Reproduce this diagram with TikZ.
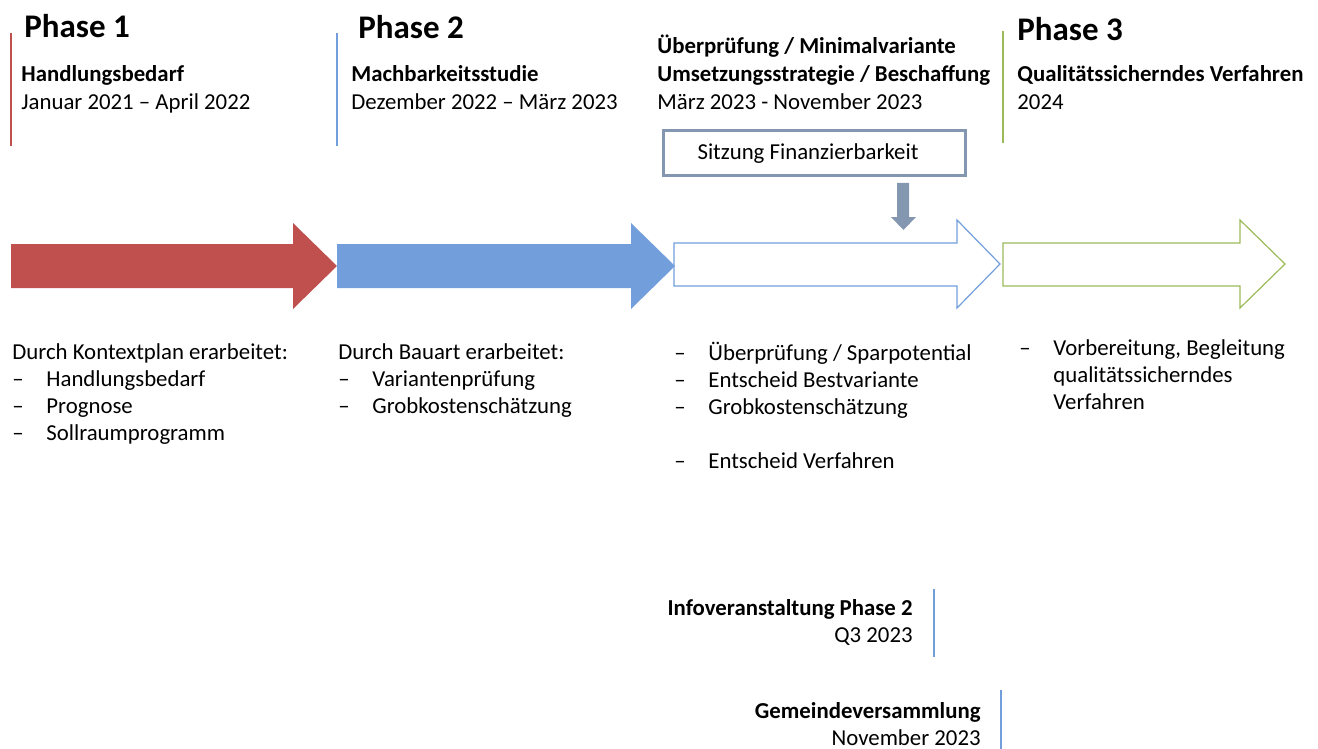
\documentclass[tikz,border=0pt]{standalone}
\usepackage{fontspec}
\setmainfont{Carlito}
\usetikzlibrary{positioning}
\definecolor{phaseRed}{HTML}{C0504D}
\definecolor{phaseBlue}{HTML}{729FDB}
\definecolor{phaseGreen}{HTML}{9BBB59}
\definecolor{boxGray}{HTML}{8497B0}
\newcommand{\listdash}{\makebox[17pt][l]{--}}

\begin{document}
\begin{tikzpicture}[x=0.5pt, y=-0.5pt,
    txt/.style={inner sep=0, anchor=base west, align=left, font=\fontsize{11.4}{13.75}\selectfont},
    boldtxt/.style={txt, font=\fontsize{11.4}{13.75}\selectfont\bfseries},
    listtxt/.style={txt, font=\fontsize{11.4}{13.5}\selectfont},
    righttxt/.style={inner sep=0, anchor=base east, align=right, font=\fontsize{11.4}{13.5}\selectfont},
    phasetitle/.style={inner sep=0, anchor=base west, font=\fontsize{16.5}{20}\selectfont\bfseries},
    marker/.style={line width=0.6pt}
  ]
  \useasboundingbox (0,0) rectangle (1318,749);

  % phase markers
  \draw[marker, phaseRed] (11,33) -- (11,146);
  \draw[marker, phaseBlue] (337,33) -- (337,146);
  \draw[marker, phaseGreen] (1003,31) -- (1003,143);

  % headings (multi-line nodes sit on the baseline of their last line)
  \node[phasetitle] (p1) at (24,37.5) {Phase 1};
  \node[boldtxt] (p1head) at (21,81.5) {Handlungsbedarf};
  \node[txt] (p1date) at (21,109.5) {Januar 2021 -- April 2022};

  \node[phasetitle] (p2) at (358,38.5) {Phase 2};
  \node[boldtxt] (p2head) at (351,81.5) {Machbarkeitsstudie};
  \node[txt] (p2date) at (351,109.5) {Dezember 2022 -- März 2023};

  \node[boldtxt] (p2bhead) at (657,81.5) {Überprüfung / Minimalvariante\\Umsetzungsstrategie / Beschaffung};
  \node[txt] (p2bdate) at (657,109.5) {März 2023 - November 2023};

  \node[phasetitle] (p3) at (1017,40.5) {Phase 3};
  \node[boldtxt] (p3head) at (1017,81.5) {Qualitätssicherndes Verfahren};
  \node[txt] (p3date) at (1017,109.5) {2024};

  % meeting box
  \node[draw=boxGray, line width=1.5pt, minimum width=151pt, minimum height=22.5pt,
    font=\fontsize{11.4}{13.75}\selectfont] (sitzung) at (814,153.5)
    {\hspace*{-3pt}Sitzung Finanzierbarkeit\hspace*{3pt}};
  \fill[boxGray] (897,183) -- (909,183) -- (909,217) -- (916,217) -- (903.5,230)
    -- (891,217) -- (897,217) -- cycle;

  % phase arrows
  \fill[phaseRed] (11,244) -- (293,244) -- (293,223) -- (337,266) -- (293,309)
    -- (293,288) -- (11,288) -- cycle;
  \fill[phaseBlue] (337,244) -- (631,244) -- (631,223) -- (675,266) -- (631,309)
    -- (631,288) -- (337,288) -- cycle;
  \draw[phaseBlue, line width=0.6pt] (674,243) -- (957,243) -- (957,220) -- (1000,264)
    -- (957,308) -- (957,286) -- (674,286) -- cycle;
  \draw[phaseGreen, line width=0.6pt] (1003,243) -- (1240,243) -- (1240,220) -- (1285,264)
    -- (1240,308) -- (1240,286) -- (1003,286) -- cycle;

  % task lists
  \node[listtxt] (l1) at (12,440.5) {Durch Kontextplan erarbeitet:\\
    \listdash Handlungsbedarf\\ \listdash Prognose\\ \listdash Sollraumprogramm};
  \node[listtxt] (l2) at (338,413.5) {Durch Bauart erarbeitet:\\
    \listdash Variantenprüfung\\ \listdash Grobkostenschätzung};
  \node[listtxt] (l3) at (674,468) {\listdash Überprüfung / Sparpotential\\
    \listdash Entscheid Bestvariante\\ \listdash Grobkostenschätzung\\[13.5pt]
    \listdash Entscheid Verfahren};
  \node[listtxt] (l4) at (1019,409.5) {\listdash Vorbereitung, Begleitung\\
    \hspace*{17pt}qualitätssicherndes\\ \hspace*{17pt}Verfahren};

  % events
  \node[righttxt] (info) at (913,642.5) {\textbf{Infoveranstaltung Phase 2}\\Q3 2023};
  \draw[marker, phaseBlue] (934,589) -- (934,657);
  \node[righttxt] (gv) at (981,745.5) {\textbf{Gemeindeversammlung}\\November 2023};
  \draw[marker, phaseBlue] (1001,690) -- (1001,749);
\end{tikzpicture}
\end{document}
